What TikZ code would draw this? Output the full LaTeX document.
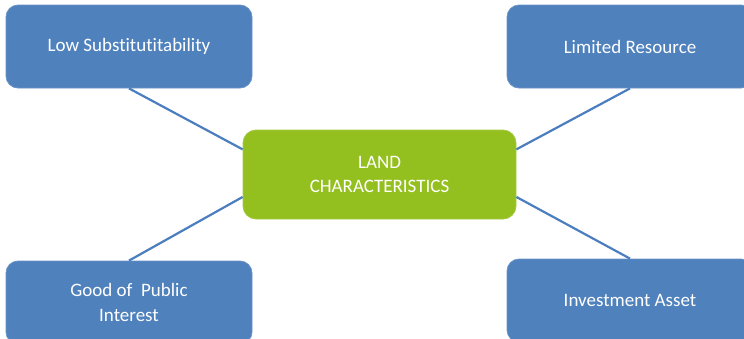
\documentclass[tikz,border=0pt]{standalone}
\usepackage{fontspec}
\setmainfont[Ligatures=NoCommon]{Carlito}
\usetikzlibrary{calc}
\definecolor{boxblue}{HTML}{4F81BD}
\definecolor{boxedge}{HTML}{6A94C8}
\definecolor{landgreen}{HTML}{93C01F}
\definecolor{linkblue}{HTML}{4A7EBF}
\begin{document}
\begin{tikzpicture}[x=1pt,y=-1pt,
  feature/.style={draw=boxedge, line width=0.8pt, fill=boxblue, rounded corners=12pt,
    minimum width=246pt, minimum height=83pt, inner sep=0pt,
    text=white, align=center, font=\fontsize{19}{24.5}\selectfont},
  hub/.style={draw=landgreen!85!white, line width=0.8pt, fill=landgreen, rounded corners=13pt,
    minimum width=273pt, minimum height=89pt, inner sep=0pt,
    text=white, align=center, font=\fontsize{19}{23.5}\selectfont},
  link/.style={draw=linkblue, line width=2.2pt}]
\useasboundingbox (0,0) rectangle (744,338);
\begin{scope}
\clip (0,0) rectangle (744,338);
% central concept
\node[hub] (land) at (379.5,174.5) {LAND\\CHARACTERISTICS};
% four characteristics
\node[feature] (subst) at (129,46.5) {Low Substitutitability};
\node[feature] (limit) at (630,46.5) {Limited Resource};
\node[feature] (public) at (129,302.5) {Good of~ Public\\Interest};
\node[feature] (invest) at (630,300.5) {Investment Asset};
% connectors to the left and right edges of the hub
\coordinate (lw1) at ($(land.north west)!0.22!(land.south west)$);
\coordinate (lw2) at ($(land.north west)!0.75!(land.south west)$);
\coordinate (le1) at ($(land.north east)!0.22!(land.south east)$);
\coordinate (le2) at ($(land.north east)!0.75!(land.south east)$);
\draw[link] (subst.south) -- (lw1);
\draw[link] (public.north) -- (lw2);
\draw[link] (limit.south) -- (le1);
\draw[link] (invest.north) -- (le2);
\end{scope}
\end{tikzpicture}
\end{document}
